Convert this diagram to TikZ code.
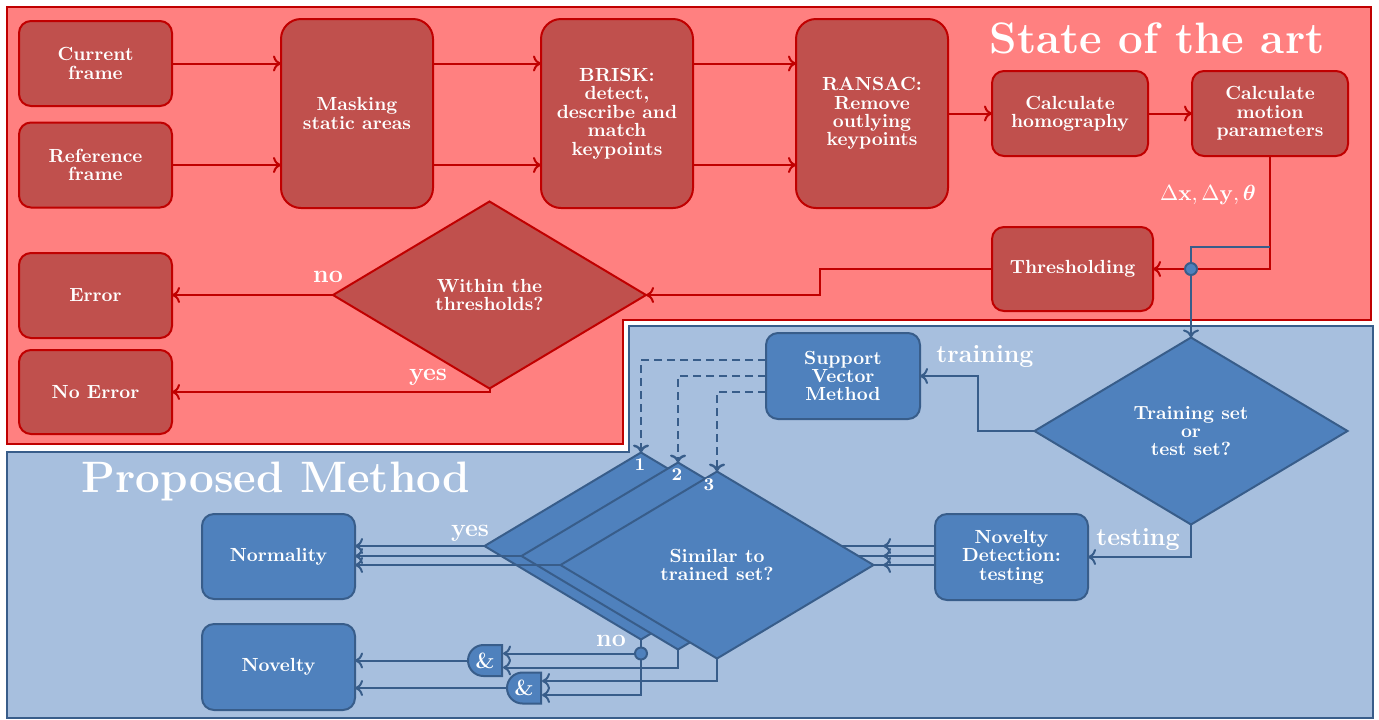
\documentclass[tikz,border=0pt]{standalone}
\usepackage{amsmath}
\usetikzlibrary{shapes.geometric,calc,arrows.meta}
\definecolor{redarea}{HTML}{FF8080}
\definecolor{redfill}{HTML}{C0504D}
\definecolor{redline}{HTML}{C00000}
\definecolor{bluearea}{HTML}{A7BFDE}
\definecolor{bluefill}{HTML}{4F81BD}
\definecolor{blueline}{HTML}{385D8A}
\begin{document}
\begin{tikzpicture}[x=0.5pt,y=-0.5pt,line width=1pt,>={To[length=4pt,width=8pt]}]
   \tikzset{box/.style 2 args={draw=#1line, fill=#1fill, rounded corners=6pt, text=white, align=center, font=\fontsize{9.5}{9.2}\selectfont\bfseries, inner sep=1pt, outer sep=0pt, minimum width=76.5pt, minimum height=#2},
   tall/.style={box={red}{94.5pt}, minimum width=76pt, rounded corners=10pt},
   dia/.style={box={#1}{93.5pt}, diamond, sharp corners, minimum width=156.5pt, shape aspect=1.67},
   lbl/.style={text=white, font=\fontsize{12.5}{15}\selectfont\bfseries, inner sep=0pt},
   mathlbl/.style={text=white, font=\fontsize{11}{13}\selectfont\bfseries, inner sep=0pt},
   title/.style={text=white, font=\fontsize{22}{26}\selectfont\bfseries, inner sep=0pt},
   num/.style={text=white, font=\fontsize{9}{10}\selectfont\bfseries, inner sep=0pt},
   arr/.style={->, draw=#1line},
   dot/.style={circle, draw=blueline, fill=bluefill, minimum size=6pt, inner sep=0pt},
   gate/.style={minimum width=17pt, minimum height=15.5pt, inner sep=0pt, text=white, font=\fontsize{11}{12}\selectfont\bfseries},
   gateshape/.style={draw=blueline, fill=bluefill}};
   \useasboundingbox (0,0) rectangle (1379,719);

   \draw[draw=redline, fill=redarea] (7,7) -- (1371,7) -- (1371,320) -- (623,320) -- (623,444) -- (7,444) -- cycle;
   \draw[draw=blueline, fill=bluearea] (629,326) -- (1373,326) -- (1373,718) -- (7,718) -- (7,452) -- (629,452) -- cycle;
   \node[title] (t0) at (1157,38) {State of the art};
   \node[title] (t1) at (276,481) {Proposed Method};

   \node[box={red}{42.5pt}] (0) at (95.5,63.5) {Current\\frame};
\node[box={red}{42.5pt}] (1) at (95.5,165) {Reference\\frame};
\node[tall] (2) at (357,113.5) {Masking\\static areas};
\node[tall] (3) at (617,113.5) {BRISK:\\detect,\\describe and\\match\\keypoints};
\node[tall] (4) at (872,113.5) {RANSAC:\\Remove\\outlying\\keypoints};
\node[box={red}{42.5pt}, minimum width=78pt] (5) at (1070,113.5) {Calculate\\homography};
\node[box={red}{42.5pt}, minimum width=78pt] (6) at (1270,113.5) {Calculate\\motion\\parameters};
\node[box={red}{42pt}, minimum width=80.5pt] (7) at (1072.5,269) {Thresholding};
\node[dia=red] (8) at (489.5,295) {Within the\\thresholds?};
\node[box={red}{42.5pt}] (9) at (95.5,295.5) {Error};
\node[box={red}{42pt}] (10) at (95.5,392) {No Error};

\draw[arr=red] (0.east) -- (0.east -| 2.west);
\draw[arr=red] (1.east) -- (1.east -| 2.west);
\draw[arr=red] (2.east |- 0.east) -- (3.west |- 0.east);
\draw[arr=red] (2.east |- 1.east) -- (3.west |- 1.east);
\draw[arr=red] (3.east |- 0.east) -- (4.west |- 0.east);
\draw[arr=red] (3.east |- 1.east) -- (4.west |- 1.east);
\draw[arr=red] (4) -- (5);
\draw[arr=red] (5) -- (6);
\draw[arr=red] (6.south) |- (7.east);
\draw[arr=red] (7.west) -- ++(-172,0) |- (8.east);
\draw[arr=red] (8.west) -- (8.west -| 9.east);
\draw[arr=red] (8.south) |- (10.east);
\node[mathlbl] (m0) at (1208,195) {$\Delta\mathbf{x},\Delta\mathbf{y},\boldsymbol{\theta}$};
\node[lbl] (m1) at (328,277) {no};
\node[lbl] (m2) at (428,377) {yes};

\node[dia=blue] (11) at (1191,431) {Training set\\or\\test set?};
\node[box={blue}{43pt}, minimum width=77pt] (12) at (843,376) {Support\\Vector\\Method};
\node[box={blue}{43pt}] (13) at (1011.5,557) {Novelty\\Detection:\\testing};
\node[dia=blue] (14) at (641,546) {};
\node[dia=blue] (15) at (678,556) {};
\draw[draw=blueline] (13.west |- 14.east) -- (14.east);
\draw[draw=blueline] (13.west |- 15.east) -- (15.east);
\node[dia=blue] (16) at (717,565) {Similar to\\trained set?};
\node[box={blue}{42.5pt}] (17) at (278.5,556.5) {Normality};
\node[box={blue}{43pt}] (18) at (278.5,667) {Novelty};
\draw[gateshape] (502,645) -- ++(-18.5,0) arc[start angle=90, end angle=270, radius=7.75pt] -- ++(18.5,0) -- cycle;
\node[gate] (19) at (485,660.5) {\&};
\draw[gateshape] (541,672.5) -- ++(-18.5,0) arc[start angle=90, end angle=270, radius=7.75pt] -- ++(18.5,0) -- cycle;
\node[gate] (20) at (524,688) {\&};

\coordinate (24) at (1270,247);
\draw[arr=blue] (24) -| (11.north);
\node[dot] (21) at (7.east -| 11.north) {};
\draw[arr=blue, line width=1.2pt, dash pattern=on 4pt off 2.5pt] ($(12.west)+(0,-16)$) -| (14.north);
\draw[arr=blue, line width=1.2pt, dash pattern=on 4pt off 2.5pt] (12.west) -| (15.north);
\draw[arr=blue, line width=1.2pt, dash pattern=on 4pt off 2.5pt] ($(12.west)+(0,16)$) -| (16.north);
\draw[arr=blue] (11.west) -- ++(-57,0) |- (12.east);
\draw[arr=blue] (11.south) |- (13.east);
\node[lbl] (m3) at (985,356) {training};
\node[lbl] (m4) at (1138,539) {testing};

\draw[draw=blueline] (13.west |- 16.east) -- (16.east);
\draw[arr=blue] (13.west |- 14.east) -- ++(-52,0);
\draw[arr=blue] (13.west |- 15.east) -- ++(-52,0);
\draw[arr=blue] (13.west |- 16.east) -- ++(-52,0);
\draw[arr=blue] (14.west) -- (14.west -| 17.east);
\draw[arr=blue] (15.west) -- (15.west -| 17.east);
\draw[arr=blue] (16.west) -- (16.west -| 17.east);
\node[lbl] (m5) at (470,533) {yes};
\node[lbl] (m6) at (611,641) {no};
\node[num] (n1) at (640,465) {1};
\node[num] (n2) at (677,475) {2};
\node[num] (n3) at (709,485) {3};

\coordinate (25) at ($(19.east)+(0,-7)$);
\draw[arr=blue] (14.south) |- ($(20.east)+(0,7)$);
\node[dot] (22) at (14.south |- 25) {};
\draw[arr=blue] (22) -- (25);
\draw[arr=blue] (15.south) |- ($(19.east)+(0,7)$);
\draw[arr=blue] (16.south) |- ($(20.east)+(0,-7)$);
\draw[arr=blue] (19.west) -- (19.west -| 18.east);
\draw[arr=blue] (20.west) -- (20.west -| 18.east);

\end{tikzpicture}
\end{document}
